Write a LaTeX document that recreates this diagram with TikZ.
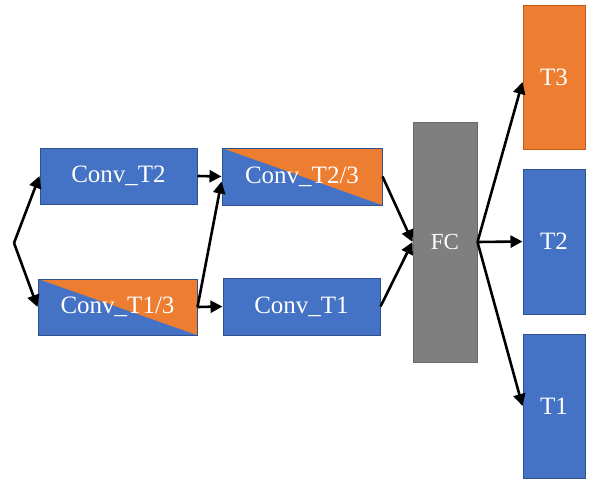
\documentclass[tikz,border=0pt]{standalone}
\usepackage{fontspec}
\setmainfont{Liberation Serif}
\usetikzlibrary{arrows.meta}
\definecolor{myblue}{HTML}{4472C4}
\definecolor{myblueedge}{HTML}{2F528F}
\definecolor{myorange}{HTML}{ED7D31}
\definecolor{myorangeedge}{HTML}{C55A11}
\definecolor{mygray}{HTML}{7F7F7F}
\definecolor{mygrayedge}{HTML}{6A6A6A}
\tikzset{
  box/.style={rectangle, inner sep=0pt, fill=myblue, draw=myblueedge, line width=1pt,
    text=white, font=\fontsize{25}{29}\selectfont},
  halfbox/.style={box, path picture={\fill[myorange] (path picture bounding box.north west) -- (path picture bounding box.north east) -- (path picture bounding box.south east) -- cycle;}},
  obox/.style={box, fill=myorange, draw=myorangeedge},
  gbox/.style={box, fill=mygray, draw=mygrayedge, font=\fontsize{23}{27}\selectfont},
  arr/.style={line width=2.6pt, -{Triangle[length=12pt,width=12pt]}},
}
\begin{document}
\begin{tikzpicture}[x=1pt,y=-1pt]
\useasboundingbox (0,0) rectangle (592,479);
\node[box, minimum width=157pt, minimum height=56pt] (c2) at (118.5,176) {Conv\_T2};
\node[halfbox, minimum width=159pt, minimum height=56pt] (c13) at (117.5,307) {Conv\_T1/3};
\node[halfbox, minimum width=160pt, minimum height=57pt] (c23) at (302,176.5) {Conv\_T2/3};
\node[box, minimum width=157pt, minimum height=57pt] (c1) at (301.5,306.5) {Conv\_T1};
\node[gbox, minimum width=64pt, minimum height=240pt] (fc) at (445,242) {FC};
\node[obox, minimum width=62pt, minimum height=144pt] (t3) at (554,77) {T3};
\node[box, minimum width=62pt, minimum height=145pt] (t2) at (554,241.5) {T2};
\node[box, minimum width=62pt, minimum height=144pt] (t1) at (554,406) {T1};
\coordinate (s) at (14,243);
\draw[arr] (s) -- (c2.west);
\draw[arr] (s) -- (c13.west);
\draw[arr] (c2.east) -- (c23.west);
\draw[arr] (c13.east) -- (c1.west);
\draw[arr] (c13.east) -- ([yshift=-5pt]c23.west);
\draw[arr] (c23.east) -- (fc.west);
\draw[arr] (c1.east) -- (fc.west);
\draw[arr] (fc.east) -- ([yshift=-5pt]t3.west);
\draw[arr] (fc.east) -- (t2.west);
\draw[arr] (fc.east) -- (t1.west);
\end{tikzpicture}
\end{document}
